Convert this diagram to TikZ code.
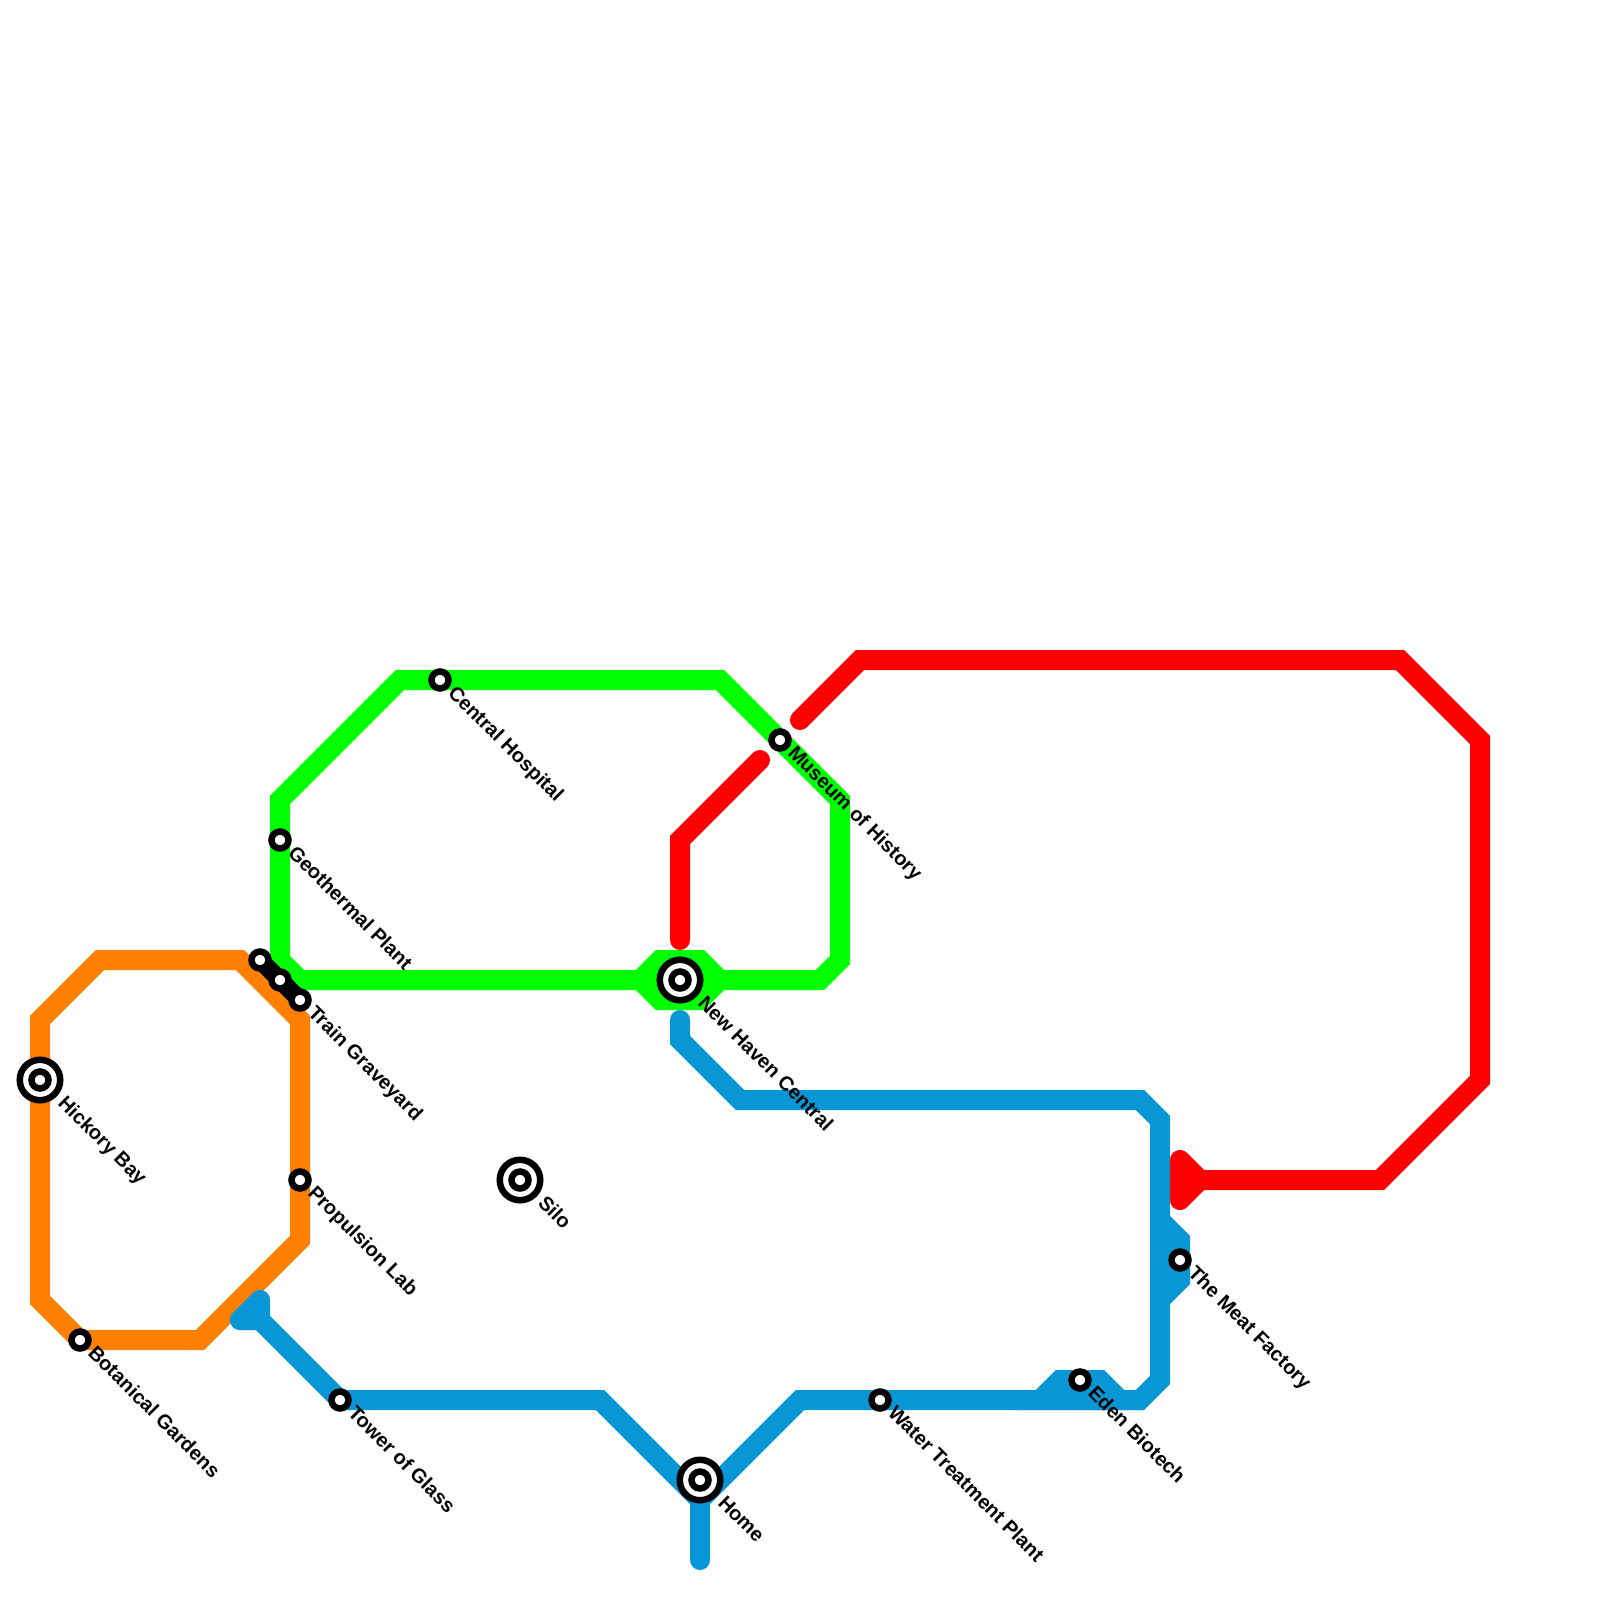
\documentclass[tikz,border=0pt]{standalone}
\usepackage{fontspec}
\setmainfont{Liberation Sans}
\definecolor{orangeline}{HTML}{FF8000}
\definecolor{greenline}{HTML}{00FF00}
\definecolor{redline}{HTML}{FF0000}
\definecolor{blueline}{HTML}{0896D7}
\tikzset{
  metro/.style={line width=20pt,line join=miter},
  capped/.style={metro,line cap=round},
  blob/.style={line width=20pt,line join=round,line cap=round},
  stn/.style={circle,draw=black,line width=6.5pt,fill=white,minimum size=17pt,inner sep=0pt,outer sep=0pt},
  bigstn/.style={circle,draw=black,line width=6.5pt,fill=white,minimum size=40.5pt,inner sep=0pt,outer sep=0pt},
  lbl/.style={rotate=-45,anchor=base west,inner sep=0pt,outer sep=0pt,text=black,font=\fontsize{20}{24}\selectfont\bfseries},
}
\begin{document}
\begin{tikzpicture}[x=1pt,y=-1pt]
\useasboundingbox (0,0) rectangle (1600,1600);
\fill[white] (0,0) rectangle (1600,1600);
% orange
\draw[metro,orangeline] (40,1020) -- (100,960) -- (240,960) -- (300,1020) -- (300,1240) -- (200,1340) -- (80,1340) -- (40,1300) -- cycle;
% green
\draw[metro,greenline] (280,960) -- (300,980) -- (820,980) -- (840,960) -- (840,800) -- (720,680) -- (400,680) -- (280,800) -- cycle;
\filldraw[metro,greenline] (640,980) -- (660,960) -- (700,960) -- (720,980) -- (700,1000) -- (660,1000) -- cycle;
% red
\draw[capped,redline] (680,940) -- (680,840) -- (760,760);
\draw[capped,redline] (800,720) -- (860,660) -- (1400,660) -- (1480,740) -- (1480,1080) -- (1380,1180) -- (1180,1180);
\filldraw[blob,redline] (1180,1160) -- (1200,1180) -- (1180,1200) -- cycle;
% blue
\draw[capped,blueline] (680,1020) -- (680,1040) -- (740,1100) -- (1140,1100) -- (1160,1120) -- (1160,1380) -- (1140,1400) -- (800,1400) -- (700,1500) -- (600,1400) -- (340,1400) -- (260,1320) -- (240,1320);
\draw[capped,blueline] (700,1500) -- (700,1560);
\filldraw[blob,blueline] (240,1320) -- (260,1300) -- (260,1320) -- cycle;
\filldraw[metro,blueline] (1160,1220) -- (1180,1240) -- (1180,1280) -- (1160,1300) -- cycle;
\filldraw[metro,blueline] (1040,1400) -- (1060,1380) -- (1100,1380) -- (1120,1400) -- cycle;
% stations
\coordinate (linkA) at (260,960);
\coordinate (linkB) at (300,1000);
\draw[black,line width=18pt] (linkA) -- (linkB);
\node[stn] (unnA) at (260,960) {};
\node[stn] (unnB) at (280,980) {};
\node[stn] (tg) at (300,1000) {};
\node[bigstn] (hbo) at (40,1080) {};
\node[stn] (hb) at (40,1080) {};
\node[stn] (bg) at (80,1340) {};
\node[stn] (gp) at (280,840) {};
\node[stn] (ch) at (440,680) {};
\node[stn] (mh) at (780,740) {};
\node[stn] (pl) at (300,1180) {};
\node[bigstn] (silo) at (520,1180) {};
\node[stn] (siloi) at (520,1180) {};
\node[bigstn] (nho) at (680,980) {};
\node[stn] (nh) at (680,980) {};
\node[stn] (tw) at (340,1400) {};
\node[bigstn] (homeo) at (700,1480) {};
\node[stn] (home) at (700,1480) {};
\node[stn] (wt) at (880,1400) {};
\node[stn] (eb) at (1080,1380) {};
\node[stn] (mf) at (1180,1260) {};
% labels
\node[lbl] (lhb) at (57,1104) {Hickory Bay};
\node[lbl] (lbg) at (87,1354) {Botanical Gardens};
\node[lbl] (lgp) at (287,854) {Geothermal Plant};
\node[lbl] (lch) at (447,694) {Central Hospital};
\node[lbl] (lmh) at (787,754) {Museum of History};
\node[lbl] (ltg) at (307,1014) {Train Graveyard};
\node[lbl] (lpl) at (307,1194) {Propulsion Lab};
\node[lbl] (lsi) at (537,1204) {Silo};
\node[lbl] (lnh) at (697,1004) {New Haven Central};
\node[lbl] (ltw) at (347,1414) {Tower of Glass};
\node[lbl] (lho) at (717,1504) {Home};
\node[lbl] (lwt) at (887,1414) {Water Treatment Plant};
\node[lbl] (leb) at (1087,1394) {Eden Biotech};
\node[lbl] (lmf) at (1187,1274) {The Meat Factory};
\end{tikzpicture}
\end{document}
